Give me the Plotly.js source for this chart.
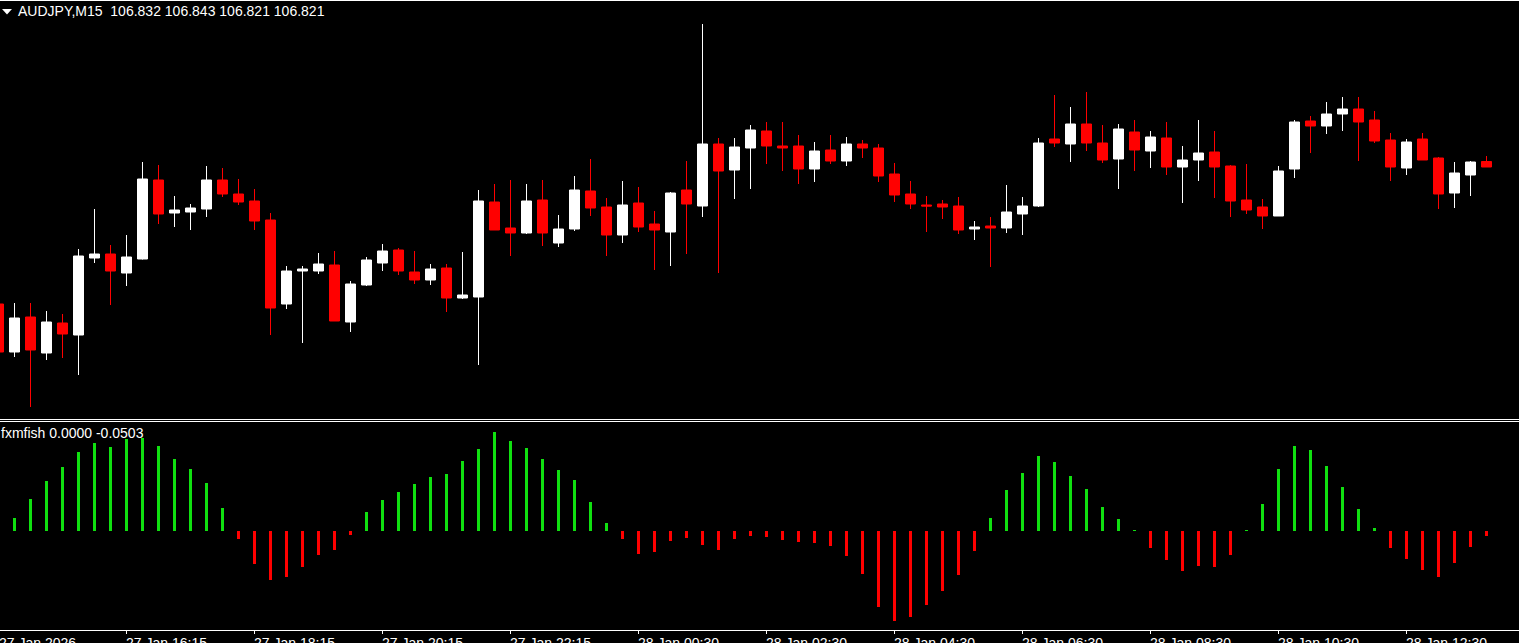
<!DOCTYPE html>
<html>
<head>
<meta charset="utf-8">
<script src="https://cdn.plot.ly/plotly-3.0.1.min.js"></script>
<style>
html,body{margin:0;padding:0;background:#000;overflow:hidden;width:1519px;height:643px}
#chart{width:1519px;height:660px}
</style>
</head>
<body>
<div id="chart"></div>
<script>
// ---- data ----
const symbolLabel = 'AUDJPY,M15';
const indicatorLabel = 'fxmfish';
const indicatorBuffers = ['0.0000', '-0.0503'];

const times = [
 '27 Jan 14:15','27 Jan 14:30','27 Jan 14:45','27 Jan 15:00','27 Jan 15:15','27 Jan 15:30','27 Jan 15:45','27 Jan 16:00',
 '27 Jan 16:15','27 Jan 16:30','27 Jan 16:45','27 Jan 17:00','27 Jan 17:15','27 Jan 17:30','27 Jan 17:45','27 Jan 18:00',
 '27 Jan 18:15','27 Jan 18:30','27 Jan 18:45','27 Jan 19:00','27 Jan 19:15','27 Jan 19:30','27 Jan 19:45','27 Jan 20:00',
 '27 Jan 20:15','27 Jan 20:30','27 Jan 20:45','27 Jan 21:00','27 Jan 21:15','27 Jan 21:30','27 Jan 21:45','27 Jan 22:00',
 '27 Jan 22:15','27 Jan 22:30','27 Jan 22:45','27 Jan 23:00','27 Jan 23:15','27 Jan 23:30','27 Jan 23:45','28 Jan 00:15',
 '28 Jan 00:30','28 Jan 00:45','28 Jan 01:00','28 Jan 01:15','28 Jan 01:30','28 Jan 01:45','28 Jan 02:00','28 Jan 02:15',
 '28 Jan 02:30','28 Jan 02:45','28 Jan 03:00','28 Jan 03:15','28 Jan 03:30','28 Jan 03:45','28 Jan 04:00','28 Jan 04:15',
 '28 Jan 04:30','28 Jan 04:45','28 Jan 05:00','28 Jan 05:15','28 Jan 05:30','28 Jan 05:45','28 Jan 06:00','28 Jan 06:15',
 '28 Jan 06:30','28 Jan 06:45','28 Jan 07:00','28 Jan 07:15','28 Jan 07:30','28 Jan 07:45','28 Jan 08:00','28 Jan 08:15',
 '28 Jan 08:30','28 Jan 08:45','28 Jan 09:00','28 Jan 09:15','28 Jan 09:30','28 Jan 09:45','28 Jan 10:00','28 Jan 10:15',
 '28 Jan 10:30','28 Jan 10:45','28 Jan 11:00','28 Jan 11:15','28 Jan 11:30','28 Jan 11:45','28 Jan 12:00','28 Jan 12:15',
 '28 Jan 12:30','28 Jan 12:45','28 Jan 13:00','28 Jan 13:15','28 Jan 13:30','28 Jan 13:45'
];

const open = [
 106.547,106.451,106.521,106.449,106.509,106.485,106.639,106.647,106.609,106.637,
 106.795,106.729,106.731,106.737,106.795,106.767,106.753,106.715,106.547,106.613,
 106.613,106.625,106.511,106.585,106.629,106.655,106.611,106.595,106.619,106.559,
 106.561,106.751,106.699,106.689,106.755,106.669,106.697,106.773,106.741,106.685,
 106.749,106.707,106.691,106.775,106.743,106.867,106.815,106.859,106.893,106.863,
 106.863,106.817,106.855,106.833,106.867,106.859,106.807,106.767,106.745,106.747,
 106.743,106.697,106.703,106.699,106.727,106.743,106.877,106.867,106.907,106.869,
 106.837,106.891,106.853,106.879,106.821,106.835,106.851,106.823,106.755,106.741,
 106.723,106.817,106.913,106.903,106.927,106.937,106.915,106.875,106.819,106.877,
 106.839,106.769,106.805,106.832
];
const high = [
 106.555,106.549,106.549,106.533,106.527,106.657,106.737,106.665,106.685,106.831,
 106.825,106.763,106.747,106.823,106.819,106.797,106.777,106.729,106.623,106.623,
 106.649,106.653,106.593,106.641,106.667,106.659,106.653,106.627,106.627,106.651,
 106.775,106.787,106.795,106.787,106.795,106.725,106.803,106.837,106.759,106.793,
 106.781,106.733,106.771,106.833,107.107,106.879,106.879,106.905,106.911,106.911,
 106.885,106.871,106.885,106.881,106.875,106.867,106.829,106.793,106.763,106.755,
 106.761,106.713,106.721,106.785,106.761,106.879,106.965,106.941,106.971,106.905,
 106.907,106.915,106.893,106.911,106.863,106.915,106.893,106.825,106.827,106.757,
 106.823,106.915,106.923,106.951,106.961,106.961,106.933,106.889,106.877,106.889,
 106.841,106.831,106.833,106.843
];
const low = [
 106.443,106.441,106.341,106.435,106.439,106.405,106.629,106.545,106.583,106.636,
 106.707,106.701,106.695,106.721,106.761,106.745,106.695,106.485,106.537,106.469,
 106.607,106.513,106.491,106.583,106.613,106.605,106.587,106.585,106.531,106.557,
 106.425,106.695,106.643,106.687,106.663,106.661,106.693,106.723,106.643,106.669,
 106.691,106.615,106.623,106.647,106.721,106.609,106.757,106.777,106.827,106.813,
 106.787,106.791,106.827,106.823,106.839,106.791,106.751,106.737,106.691,106.717,
 106.687,106.675,106.621,106.689,106.685,106.741,106.861,106.831,106.853,106.829,
 106.777,106.813,106.819,106.805,106.749,106.793,106.759,106.721,106.727,106.697,
 106.723,106.799,106.849,106.887,106.893,106.833,106.869,106.793,106.805,106.835,
 106.737,106.739,106.763,106.821
];
const close = [
 106.451,106.519,106.455,106.511,106.487,106.643,106.647,106.613,106.641,106.797,
 106.727,106.735,106.739,106.795,106.767,106.751,106.713,106.539,106.613,106.617,
 106.627,106.513,106.587,106.635,106.653,106.613,106.595,106.617,106.559,106.565,
 106.753,106.695,106.689,106.753,106.689,106.697,106.775,106.739,106.685,106.745,
 106.701,106.695,106.769,106.747,106.867,106.813,106.861,106.895,106.863,106.859,
 106.817,106.853,106.833,106.867,106.859,106.803,106.765,106.747,106.743,106.741,
 106.695,106.701,106.699,106.731,106.743,106.869,106.869,106.907,106.869,106.835,
 106.897,106.855,106.881,106.821,106.835,106.849,106.821,106.753,106.735,106.723,
 106.813,106.911,106.903,106.927,106.937,106.911,106.873,106.821,106.871,106.835,
 106.767,106.809,106.831,106.821
];

// fxmfish histogram (one value per bar; first bar has none)
const fisher = [
 null,
 0.13,0.32,0.50,0.64,0.79,0.88,0.84,0.92,0.93,0.85,
 0.72,0.62,0.48,0.23,-0.08,-0.33,-0.49,-0.46,-0.36,-0.24,
 -0.19,-0.04,0.19,0.31,0.39,0.47,0.54,0.57,0.70,0.82,
 0.99,0.90,0.83,0.72,0.61,0.51,0.29,0.08,-0.08,-0.23,
 -0.21,-0.10,-0.07,-0.14,-0.19,-0.08,-0.05,-0.06,-0.09,-0.11,
 -0.12,-0.15,-0.25,-0.43,-0.76,-0.90,-0.86,-0.74,-0.60,-0.44,
 -0.20,0.13,0.41,0.58,0.75,0.69,0.55,0.42,0.24,0.12,
 0.01,-0.17,-0.29,-0.40,-0.35,-0.36,-0.24,0.01,0.27,0.62,
 0.85,0.81,0.65,0.44,0.22,0.03,-0.17,-0.28,-0.39,-0.46,
 -0.32,-0.16,-0.0503
];

const tickTimes = ['27 Jan 14:15','27 Jan 16:15','27 Jan 18:15','27 Jan 20:15','27 Jan 22:15','28 Jan 00:30',
                   '28 Jan 02:30','28 Jan 04:30','28 Jan 06:30','28 Jan 08:30','28 Jan 10:30','28 Jan 12:30'];
const tickLabels = ['27 Jan 2026','27 Jan 16:15','27 Jan 18:15','27 Jan 20:15','27 Jan 22:15','28 Jan 00:30',
                    '28 Jan 02:30','28 Jan 04:30','28 Jan 06:30','28 Jan 08:30','28 Jan 10:30','28 Jan 12:30'];

// ---- styling ----
const W = 1519, H = 660, PLOT_H = 630;
const FONT = '"Liberation Sans", Arial, sans-serif';
const BULL = '#ffffff', BEAR = '#ff0000', UP = '#10e010', DOWN = '#ff0000';
const mainDomain = [(PLOT_H - 418) / PLOT_H, 1];
const indDomain = [0, (PLOT_H - 422) / PLOT_H];
const xRange = [0.094, 0.094 + W / 16];

const fishUp = fisher.map(v => (v !== null && v >= 0) ? v : null);
const fishDown = fisher.map(v => (v !== null && v < 0) ? v : null);

const traces = [
  {
    type: 'candlestick', x: times, open: open, high: high, low: low, close: close,
    xaxis: 'x', yaxis: 'y',
    increasing: {line: {color: BULL, width: 1}, fillcolor: BULL},
    decreasing: {line: {color: BEAR, width: 1}, fillcolor: BEAR},
    whiskerwidth: 0, hoverinfo: 'skip'
  },
  {type: 'bar', x: times, y: fishUp, xaxis: 'x', yaxis: 'y2', width: 0.1875,
   marker: {color: UP, line: {width: 0}}, hoverinfo: 'skip'},
  {type: 'bar', x: times, y: fishDown, xaxis: 'x', yaxis: 'y2', width: 0.1875,
   marker: {color: DOWN, line: {width: 0}}, hoverinfo: 'skip'}
];

const last = open.length - 1;
const nb = '\u00a0';
const headerText = symbolLabel + nb + nb + [open[last], high[last], low[last], close[last]].map(v => v.toFixed(3)).join(' ');
const indText = indicatorLabel + ' ' + indicatorBuffers.join(' ');

const annotations = [
  {xref: 'paper', yref: 'paper', x: 0, y: 1, xanchor: 'left', yanchor: 'top', xshift: 16, yshift: -1,
   text: headerText, showarrow: false, font: {family: FONT, size: 14, color: '#ffffff'}},
  {xref: 'paper', yref: 'paper', x: 0, y: indDomain[1], xanchor: 'left', yanchor: 'top', xshift: -1, yshift: -1,
   text: indText, showarrow: false, font: {family: FONT, size: 14, color: '#ffffff'}}
];
tickTimes.forEach((t, i) => {
  const idx = times.indexOf(t);
  const a = {yref: 'paper', y: 0, xanchor: 'left', yanchor: 'top', yshift: -3, xshift: -3,
             text: tickLabels[i], showarrow: false, font: {family: FONT, size: 14, color: '#ffffff'}};
  if (idx < xRange[0]) { a.xref = 'paper'; a.x = 0; } else { a.xref = 'x'; a.x = idx; }
  annotations.push(a);
});

const px = v => v / W, py = v => (PLOT_H - v) / PLOT_H;
const shapes = [
  {type: 'line', xref: 'paper', yref: 'paper', x0: 0, x1: 1, y0: py(0.5), y1: py(0.5), line: {color: '#ffffff', width: 1}},
  {type: 'line', xref: 'paper', yref: 'paper', x0: 0, x1: 1, y0: py(419.5), y1: py(419.5), line: {color: '#ffffff', width: 1}},
  {type: 'line', xref: 'paper', yref: 'paper', x0: 0, x1: 1, y0: py(421.5), y1: py(421.5), line: {color: '#ffffff', width: 1}},
  {type: 'path', xref: 'paper', yref: 'paper',
   path: 'M ' + px(2) + ' ' + py(9) + ' L ' + px(12) + ' ' + py(9) + ' L ' + px(7) + ' ' + py(14.5) + ' Z',
   fillcolor: '#ffffff', line: {width: 0}}
];

const layout = {
  width: W, height: H,
  margin: {l: 0, r: 0, t: 0, b: H - PLOT_H, pad: 0},
  paper_bgcolor: '#000000', plot_bgcolor: '#000000',
  showlegend: false, hovermode: false,
  boxgap: 0.375, boxgroupgap: 0,
  barmode: 'overlay',
  xaxis: {
    type: 'category', categoryorder: 'array', categoryarray: times,
    range: xRange, anchor: 'y2', automargin: false,
    showgrid: false, zeroline: false,
    showline: true, linecolor: '#ffffff', linewidth: 1,
    ticks: 'outside', ticklen: 3, tickwidth: 1, tickcolor: '#ffffff',
    tickmode: 'array', tickvals: tickTimes, showticklabels: false,
    rangeslider: {visible: false}, fixedrange: true
  },
  yaxis: {domain: mainDomain, range: [106.319, 107.155], visible: false, fixedrange: true},
  yaxis2: {domain: indDomain, range: [-0.99, 1.09], visible: false, fixedrange: true},
  annotations: annotations,
  shapes: shapes
};

Plotly.newPlot('chart', traces, layout, {staticPlot: true, displayModeBar: false});
</script>
</body>
</html>
